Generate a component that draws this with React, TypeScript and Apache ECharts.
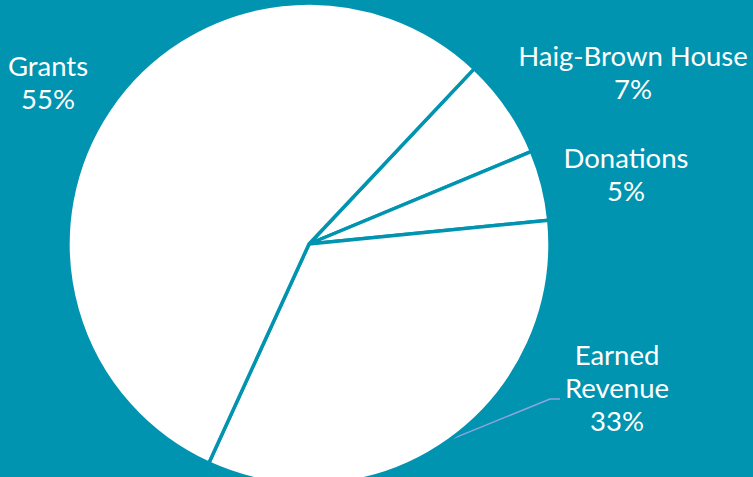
import React, { useEffect, useRef } from "react";
import * as echarts from "echarts";

const categories = ["Haig-Brown House", "Donations", "Earned Revenue", "Grants"];
const values = [6.7, 4.7, 33.4, 55.2];

const BG = "#0094b0";
// label block centres (layout, not data)
const labelCentres: number[][] = [
  [633, 72],
  [626, 174],
  [617, 387],
  [48, 82],
];
const showLine = [false, false, true, false];

export default function App() {
  const ref = useRef<HTMLDivElement>(null);
  useEffect(() => {
    document.body.style.margin = "0";
    const chart = echarts.init(ref.current!, null, { renderer: "svg" });
    chart.setOption({
      animation: false,
      backgroundColor: BG,
      series: [
        {
          type: "pie",
          center: [309, 244],
          radius: 241,
          startAngle: 46.7,
          clockwise: true,
          percentPrecision: 0,
          avoidLabelOverlap: false,
          itemStyle: { color: "#ffffff", borderColor: BG, borderWidth: 3.5 },
          emphasis: { disabled: true },
          label: {
            show: true,
            position: "outside",
            formatter: (p: any) =>
              (p.name === "Earned Revenue" ? "Earned\nRevenue" : p.name) + "\n" + p.percent + "%",
            color: "#ffffff",
            fontFamily: "Lato",
            fontSize: 27.5,
            lineHeight: 33,
            align: "center",
          },
          labelLine: {
            show: true,
            lineStyle: { color: "#8fa3df", width: 1.5 },
          },
          labelLayout: (params: any) => {
            const i = params.dataIndex;
            const c = labelCentres[i];
            const out: any = { x: c[0], y: c[1], align: "center", verticalAlign: "middle" };
            if (showLine[i] && params.labelLinePoints) {
              const w = params.labelRect.width;
              const ex = c[0] - w / 2 - 5;
              const ey = c[1] + 12;
              out.labelLinePoints = [params.labelLinePoints[0], [ex - 10, ey], [ex, ey]];
            }
            return out;
          },
          data: categories.map((name, i) => ({
            name,
            value: values[i],
            labelLine: { show: showLine[i] },
          })),
        },
      ],
    });
    return () => chart.dispose();
  }, []);
  return (
    <div
      ref={ref}
      style={{ position: "fixed", left: 0, top: 0, width: 753, height: 477 }}
    />
  );
}
